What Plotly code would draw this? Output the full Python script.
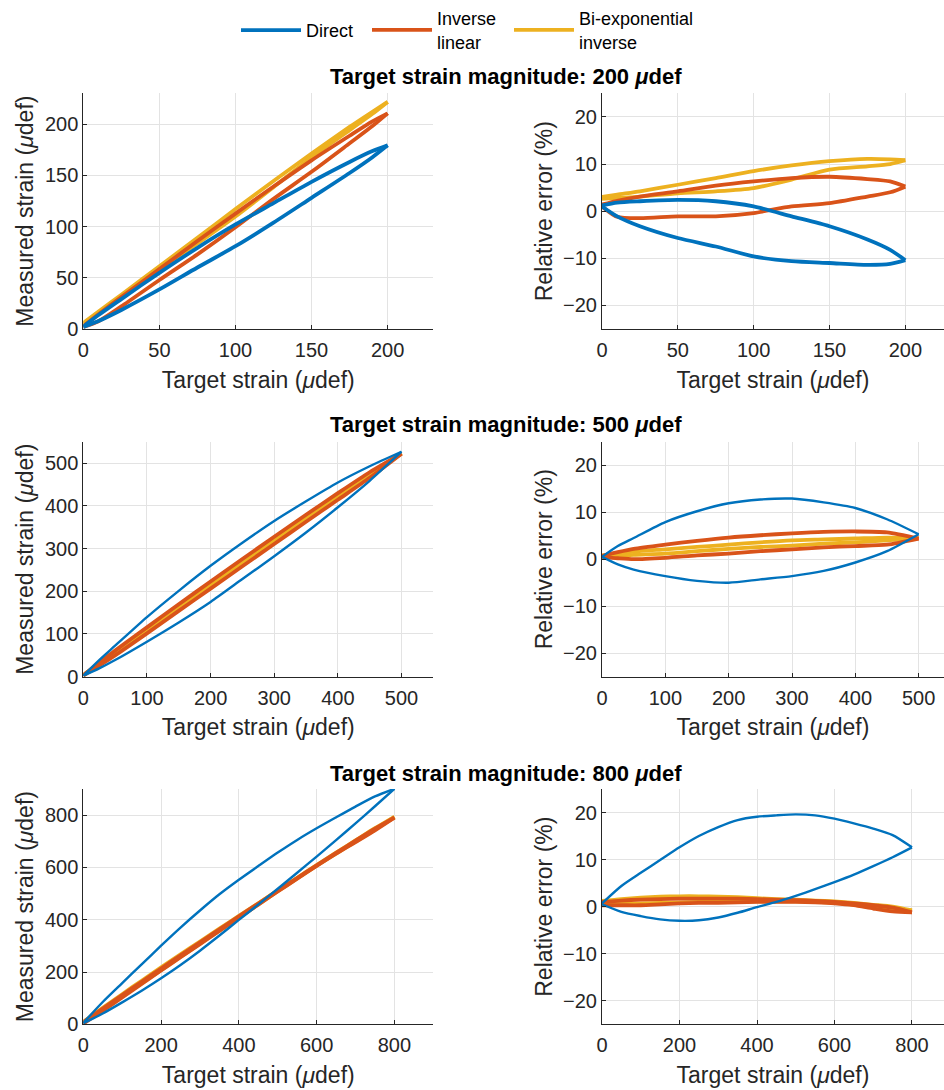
import numpy as np
import plotly.graph_objects as go

# Relative error (% of target magnitude) read along the two branches of each loop
# ("up" = upper branch, "lo" = lower branch), sampled at the target strains below.

# --- 200 µdef ---
x200 = [0, 10, 25, 50, 75, 100, 125, 150, 175, 190, 200]
direct200_up = [1.2, 1.8, 2.1, 2.4, 2.1, 1.0, -1.1, -3.2, -6.0, -8.2, -10.4]
direct200_lo = [1.0, -1.1, -3.2, -5.7, -7.5, -9.6, -10.6, -11.0, -11.4, -11.2, -10.4]
invlin200_up = [1.4, 2.2, 3.1, 4.2, 5.4, 6.3, 7.0, 7.3, 6.8, 6.3, 5.2]
invlin200_lo = [1.0, -1.2, -1.5, -1.1, -1.1, -0.4, 1.0, 1.7, 3.1, 4.0, 5.2]
biexp200_up = [3.0, 3.5, 4.2, 5.6, 7.0, 8.5, 9.7, 10.6, 11.1, 11.0, 10.8]
biexp200_lo = [2.6, 2.8, 3.1, 3.8, 4.2, 4.9, 6.7, 8.8, 9.5, 10.0, 10.8]

# --- 500 µdef ---
x500 = [0, 25, 50, 100, 150, 200, 250, 300, 350, 400, 450, 500]
direct500_up = [0.5, 2.8, 4.5, 7.9, 10.2, 11.9, 12.7, 12.9, 12.1, 10.9, 8.5, 5.3]
direct500_lo = [0.5, -1.1, -2.2, -3.6, -4.6, -5.0, -4.3, -3.6, -2.5, -0.7, 1.7, 5.3]
invlin500_up = [0.7, 1.5, 2.2, 3.1, 3.9, 4.6, 5.1, 5.5, 5.8, 5.9, 5.7, 4.4]
invlin500_lo = [0.5, 0.2, 0.0, 0.3, 0.8, 1.2, 1.7, 2.1, 2.5, 2.8, 3.1, 4.4]
biexp500_up = [0.8, 1.2, 1.6, 2.1, 2.6, 3.1, 3.6, 4.0, 4.2, 4.4, 4.6, 4.5]
biexp500_lo = [0.5, 0.7, 0.9, 1.2, 1.7, 2.2, 2.6, 2.9, 3.3, 3.6, 4.0, 4.5]

# --- 800 µdef ---
x800 = [0, 50, 100, 150, 200, 250, 300, 350, 400, 450, 500, 550, 600, 650, 700, 750, 800]
direct800_up = [0.7, 4.4, 7.2, 9.9, 12.6, 15.0, 16.9, 18.4, 19.1, 19.4, 19.6, 19.4, 18.7, 17.7, 16.6, 15.2, 12.6]
direct800_lo = [0.5, -1.1, -2.0, -2.7, -3.0, -2.9, -2.3, -1.3, -0.1, 1.0, 2.3, 3.7, 5.2, 6.8, 8.6, 10.5, 12.6]
invlin800_up = [1.0, 1.3, 1.5, 1.6, 1.7, 1.7, 1.7, 1.7, 1.6, 1.5, 1.4, 1.2, 1.0, 0.7, 0.3, -0.2, -1.2]
invlin800_lo = [0.3, 0.3, 0.3, 0.5, 0.7, 0.8, 0.8, 0.9, 1.0, 1.0, 1.0, 0.9, 0.7, 0.3, -0.4, -1.0, -1.2]
biexp800_up = [1.2, 1.6, 1.9, 2.1, 2.2, 2.2, 2.1, 2.0, 1.8, 1.6, 1.5, 1.3, 1.1, 0.8, 0.4, 0.0, -0.8]
biexp800_lo = [0.5, 0.6, 0.7, 0.8, 0.9, 1.0, 1.0, 1.0, 1.1, 1.1, 1.1, 1.0, 0.8, 0.4, -0.2, -0.7, -0.8]

magnitudes = [200, 500, 800]
targets = {200: x200, 500: x500, 800: x800}
series = {
    200: {"Direct": (direct200_up, direct200_lo),
          "Inverse linear": (invlin200_up, invlin200_lo),
          "Bi-exponential inverse": (biexp200_up, biexp200_lo)},
    500: {"Direct": (direct500_up, direct500_lo),
          "Inverse linear": (invlin500_up, invlin500_lo),
          "Bi-exponential inverse": (biexp500_up, biexp500_lo)},
    800: {"Direct": (direct800_up, direct800_lo),
          "Inverse linear": (invlin800_up, invlin800_lo),
          "Bi-exponential inverse": (biexp800_up, biexp800_lo)},
}
legend_names = {"Direct": "Direct",
                "Inverse linear": "Inverse<br>linear",
                "Bi-exponential inverse": "Bi-exponential<br>inverse"}
legend_slot = {"Direct": "legend", "Inverse linear": "legend2",
               "Bi-exponential inverse": "legend3"}
colors = {"Direct": "#0072BD", "Inverse linear": "#D95319",
          "Bi-exponential inverse": "#EDB120"}
rank = {"Direct": 1, "Inverse linear": 2, "Bi-exponential inverse": 3}
draw_order = ["Bi-exponential inverse", "Inverse linear", "Direct"]
range_left = {200: 230, 500: 550, 800: 900}
range_right = {200: 225.5, 500: 540, 800: 882.6}
dtick = {200: 50, 500: 100, 800: 200}

FONT = "Liberation Sans, Arial, Helvetica, sans-serif"
INK = "#262626"
GRID = "#e3e3e3"

fig = go.Figure()

W, H = 944, 1090
xdom_left = [83.3 / W, 433.3 / W]
xdom_right = [602 / W, 1.0]
rows_px = [(93.3, 329.0), (441.7, 676.7), (789.0, 1024.3)]
title_px = [76, 424, 773]

mu_unit = "(<i>μ</i>def)"

for r, mag in enumerate(magnitudes):
    xt = np.array(targets[mag], dtype=float)
    ax_l = 2 * r + 1
    ax_r = 2 * r + 2
    for name in draw_order:
        up, lo = series[mag][name]
        if mag == 200:
            lw = 3.8
        elif name == "Direct":
            lw = 2.4
        else:
            lw = 3.8
        for k, branch in enumerate((up, lo)):
            err = np.array(branch, dtype=float)
            measured = xt + err * mag / 100.0
            show = (r == 0 and k == 0)
            common = dict(mode="lines",
                          line=dict(color=colors[name], width=lw, shape="spline", smoothing=0.7),
                          name=legend_names[name], legendgroup=name,
                          legend=legend_slot[name],
                          legendrank=rank[name], hoverinfo="skip")
            fig.add_trace(go.Scatter(x=xt, y=measured, showlegend=show,
                                     xaxis=f"x{ax_l}", yaxis=f"y{ax_l}", **common))
            fig.add_trace(go.Scatter(x=xt, y=err, showlegend=False,
                                     xaxis=f"x{ax_r}", yaxis=f"y{ax_r}", **common))

    y0 = 1 - rows_px[r][1] / H
    y1 = 1 - rows_px[r][0] / H
    axis_common = dict(showline=True, linecolor=INK, linewidth=1, mirror=False,
                       ticks="inside", ticklen=4, tickcolor=INK, automargin=False,
                       showgrid=True, gridcolor=GRID, gridwidth=1, zeroline=False,
                       tickfont=dict(family=FONT, size=20, color=INK),
                       title_font=dict(family=FONT, size=23, color=INK))
    fig.layout[f"xaxis{ax_l}"] = dict(domain=xdom_left, anchor=f"y{ax_l}",
                                      range=[0, range_left[mag]],
                                      tickvals=list(range(0, mag + 1, dtick[mag])),
                                      ticklabelstandoff=3,
                                      title=dict(text="Target strain " + mu_unit, standoff=11),
                                      **axis_common)
    fig.layout[f"yaxis{ax_l}"] = dict(domain=[y0, y1], anchor=f"x{ax_l}",
                                      range=[0, range_left[mag]],
                                      tickvals=list(range(0, range_left[mag] + 1, dtick[mag])),
                                      title=dict(text="Measured strain " + mu_unit, standoff=4),
                                      **axis_common)
    fig.layout[f"xaxis{ax_r}"] = dict(domain=xdom_right, anchor=f"y{ax_r}",
                                      range=[0, range_right[mag]],
                                      tickvals=list(range(0, mag + 1, dtick[mag])),
                                      ticklabelstandoff=3,
                                      title=dict(text="Target strain " + mu_unit, standoff=11),
                                      **axis_common)
    fig.layout[f"yaxis{ax_r}"] = dict(domain=[y0, y1], anchor=f"x{ax_r}",
                                      range=[-25, 25], tickvals=[-20, -10, 0, 10, 20],
                                      title=dict(text="Relative error (%)", standoff=4),
                                      **axis_common)
    fig.add_annotation(text=f"<b>Target strain magnitude: {mag} <i>μ</i>def</b>",
                       xref="paper", yref="paper", x=505.5 / W, y=1 - title_px[r] / H,
                       xanchor="center", yanchor="middle", showarrow=False,
                       font=dict(family=FONT, size=22, color="#000000"))

legend_common = dict(orientation="h", yanchor="top", xanchor="left",
                     font=dict(family=FONT, size=18, color="#000000"),
                     itemwidth=60, bgcolor="rgba(0,0,0,0)", traceorder="normal")
fig.update_layout(
    width=W, height=H,
    margin=dict(l=0, r=0, t=0, b=0),
    paper_bgcolor="white", plot_bgcolor="white",
    legend=dict(x=236 / W, y=1 - 12 / H, **legend_common),
    legend2=dict(x=367 / W, y=1.0, **legend_common),
    legend3=dict(x=509 / W, y=1.0, **legend_common),
)

fig.write_html("out.html")
